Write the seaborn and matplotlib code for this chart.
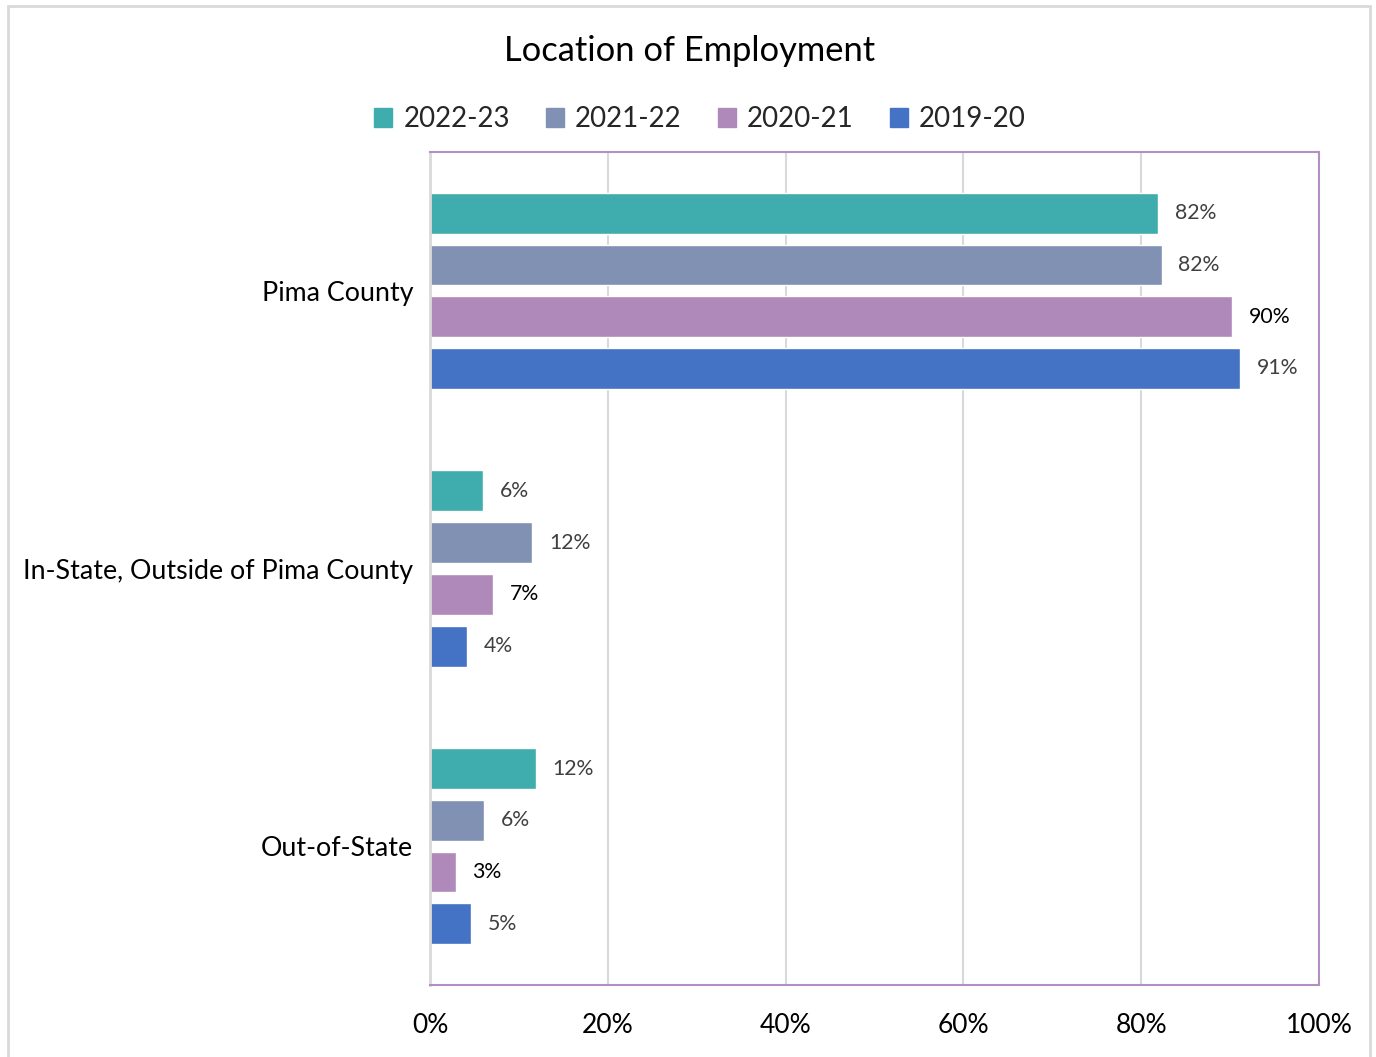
import matplotlib
matplotlib.use("Agg")
import matplotlib.pyplot as plt
import matplotlib.patches as mpatches
import seaborn as sns
import pandas as pd

categories = ["Pima County", "In-State, Outside of Pima County", "Out-of-State"]
years = ["2022-23", "2021-22", "2020-21", "2019-20"]
v_2022_23 = [81.9, 6.0, 11.9]
v_2021_22 = [82.3, 11.5, 6.1]
v_2020_21 = [90.2, 7.1, 2.9]
v_2019_20 = [91.1, 4.2, 4.6]
labels_2022_23 = ["82%", "6%", "12%"]
labels_2021_22 = ["82%", "12%", "6%"]
labels_2020_21 = ["90%", "7%", "3%"]
labels_2019_20 = ["91%", "4%", "5%"]
colors = ["#3FACAE", "#8091B4", "#AF89B9", "#4472C4"]
label_colors = ["#404040", "#404040", "#000000", "#404040"]

series = [v_2022_23, v_2021_22, v_2020_21, v_2019_20]
labels = [labels_2022_23, labels_2021_22, labels_2020_21, labels_2019_20]
rows = []
for y, vals in zip(years, series):
    for c, v in zip(categories, vals):
        rows.append({"Location": c, "Year": y, "Value": v})
df = pd.DataFrame(rows)

sns.set_theme(style="white")
plt.rcParams["font.family"] = ["Lato", "DejaVu Sans"]

fig = plt.figure(figsize=(13.76, 10.57), dpi=100)
ax = fig.add_axes([430/1376, 1-985/1057, (1319-430)/1376, (985-152)/1057])

sns.barplot(data=df, y="Location", x="Value", hue="Year", order=categories,
            hue_order=years, palette=colors, orient="h", width=0.745, gap=0.21,
            ax=ax, legend=False, saturation=1)

for i, cont in enumerate(ax.containers):
    ax.bar_label(cont, labels=labels[i], padding=12, fontsize=15.3, color=label_colors[i])

ax.set_xlim(0, 100)
ax.set_ylim(2.5, -0.5)
ax.set_xticks([0, 20, 40, 60, 80, 100])
ax.set_xticklabels(["0%", "20%", "40%", "60%", "80%", "100%"], fontsize=19, color="black")
ax.tick_params(axis="x", pad=20, length=0)
ax.tick_params(axis="y", labelsize=19.3, labelcolor="black", length=0, pad=12)
ax.set_xlabel("")
ax.set_ylabel("")
ax.xaxis.grid(True, color="#D9D9D9", linewidth=1.5)
ax.set_axisbelow(True)
for s in ["top", "right", "bottom"]:
    ax.spines[s].set_color("#B48FC4")
    ax.spines[s].set_linewidth(1.5)
ax.spines["left"].set_color("#D9D9D9")
ax.spines["left"].set_linewidth(2)

handles = [mpatches.Patch(color=c, label=y) for c, y in zip(colors, years)]
fig.legend(handles=handles, loc="center", bbox_to_anchor=(700/1376, 1-119/1057),
           ncol=4, frameon=False, fontsize=20, handlelength=0.65, handleheight=0.65,
           handletextpad=0.4, columnspacing=1.3)

fig.text(690/1376, 1-51/1057, "Location of Employment", ha="center", va="center",
         fontsize=24.8, color="black")

fig.patches.append(mpatches.Rectangle((8/1376, -0.01), (1370-8)/1376, (1057-6)/1057 + 0.01,
                                      transform=fig.transFigure, fill=False,
                                      edgecolor="#D9D9D9", linewidth=2))

fig.savefig("out.png", dpi=100)
